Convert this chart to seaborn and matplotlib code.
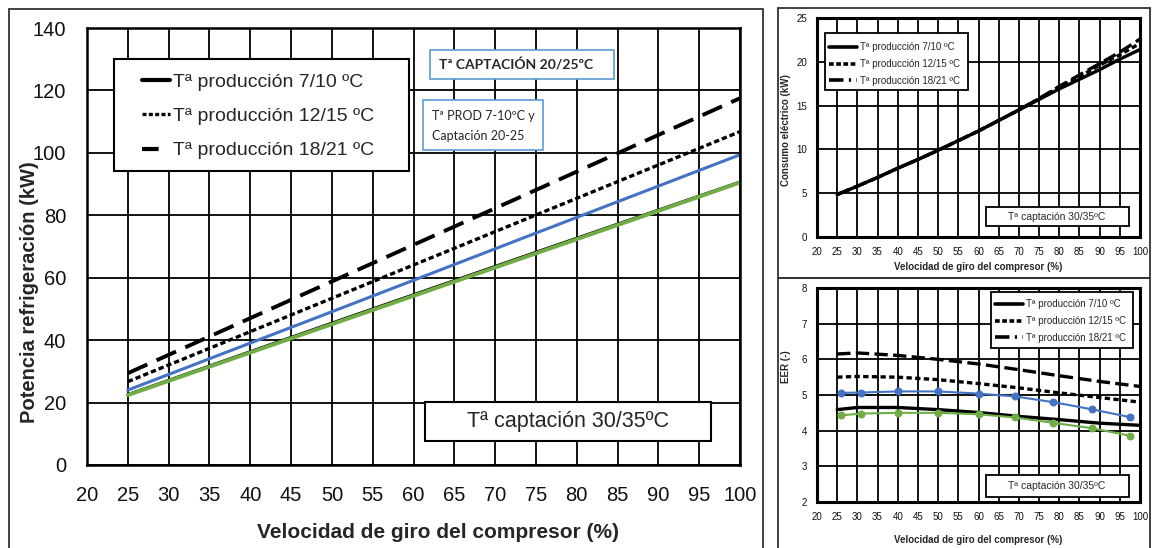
import matplotlib
matplotlib.use("Agg")
import matplotlib.pyplot as plt
import matplotlib.patches as mpatches
from matplotlib.lines import Line2D
import seaborn as sns

# ---- data ----
# main panel: cooling capacity (kW) vs compressor speed (%)
speed_main = [25, 50, 75, 100]
cap_7_10 = [22.6, 45.5, 68.2, 90.7]
cap_12_15 = [26.7, 53.4, 80.1, 106.8]
cap_18_21 = [29.4, 58.8, 88.1, 117.5]
cap_blue = [24.0, 49.1, 74.3, 99.4]
cap_green = [22.4, 45.1, 67.8, 90.5]

# top right: electric consumption (kW)
speed_el = [25, 30, 35, 40, 45, 50, 55, 60, 65, 70, 75, 80, 85, 90, 95, 100]
el_7_10 = [4.85, 5.8, 6.8, 7.85, 8.85, 9.9, 11.0, 12.1, 13.3, 14.5, 15.7, 16.9, 18.0, 19.1, 20.3, 21.4]
el_12_15 = [4.85, 5.8, 6.8, 7.85, 8.85, 9.9, 11.0, 12.1, 13.3, 14.5, 15.8, 17.1, 18.3, 19.6, 20.8, 22.1]
el_18_21 = [4.85, 5.8, 6.8, 7.85, 8.85, 9.9, 11.0, 12.1, 13.3, 14.5, 15.8, 17.2, 18.5, 19.8, 21.1, 22.6]

# bottom right: EER
speed_eer = [25, 30, 40, 50, 60, 70, 80, 90, 100]
eer_7_10 = [4.59, 4.65, 4.65, 4.59, 4.51, 4.40, 4.31, 4.21, 4.15]
eer_12_15 = [5.50, 5.52, 5.50, 5.43, 5.32, 5.20, 5.06, 4.93, 4.80]
eer_18_21 = [6.15, 6.18, 6.11, 6.00, 5.87, 5.71, 5.54, 5.38, 5.24]
speed_pts = [26, 31, 40, 50, 60, 69, 78.5, 88, 97.5]
eer_blue = [5.06, 5.07, 5.10, 5.10, 5.04, 4.96, 4.80, 4.60, 4.38]
eer_green = [4.43, 4.48, 4.50, 4.50, 4.46, 4.37, 4.22, 4.07, 3.86]

labels = ["Tª producción 7/10 ºC", "Tª producción 12/15 ºC", "Tª producción 18/21 ºC"]

BLUE = "#4472C4"
GREEN = "#70AD47"
BOXBLUE = "#5B9BD5"
REG = ["Liberation Sans", "DejaVu Sans"]
CAL = ["Lato", "DejaVu Sans"]

sns.set_theme(style="white")
plt.rcParams["font.family"] = REG

W, H = 1152, 548
fig = plt.figure(figsize=(W / 100, H / 100), dpi=100)


def px_axes(x0, y0, x1, y1):
    return fig.add_axes([x0 / W, 1 - y1 / H, (x1 - x0) / W, (y1 - y0) / H])


def px_rect(x0, y0, x1, y1, ec="black", lw=1.5, fc="none", z=1):
    r = mpatches.Rectangle((x0 / W, 1 - y1 / H), (x1 - x0) / W, (y1 - y0) / H,
                           transform=fig.transFigure, fc=fc, ec=ec, lw=lw, zorder=z)
    fig.add_artist(r)


def px_text(x, y, s, **kw):
    fig.text(x / W, 1 - y / H, s, **kw)


def style_axes(ax, ylim, yticks, tick_fs, pad, grid_lw, spine_lw):
    ax.set_xlim(20, 100)
    ax.set_ylim(*ylim)
    ax.set_xticks(range(20, 101, 5))
    ax.set_yticks(yticks)
    ax.grid(True, color="black", lw=grid_lw)
    for s in ax.spines.values():
        s.set_color("black")
        s.set_linewidth(spine_lw)
    ax.set_xlabel("")
    ax.set_ylabel("")
    ax.tick_params(length=0, pad=pad, labelsize=tick_fs, labelcolor="#111111")


# outer frames
px_rect(9, 9, 763, 560, ec="#333333", lw=1.3)
px_rect(778, 8, 1150, 278, ec="#333333", lw=1.3)
px_rect(778, 278, 1150, 560, ec="#333333", lw=1.3)

# ---- main panel ----
ax = px_axes(87, 28, 740, 465)
sns.lineplot(x=speed_main, y=cap_7_10, ax=ax, color="black", lw=2.0)
sns.lineplot(x=speed_main, y=cap_12_15, ax=ax, color="black", lw=2.4, linestyle=(0, (1.6, 0.9)))
sns.lineplot(x=speed_main, y=cap_18_21, ax=ax, color="black", lw=2.8, linestyle=(0, (5.5, 2.6)))
sns.lineplot(x=speed_main, y=cap_blue, ax=ax, color=BLUE, lw=2.2)
sns.lineplot(x=speed_main, y=cap_green, ax=ax, color=GREEN, lw=2.8)
style_axes(ax, (0, 140), range(0, 141, 20), 14.5, 15, 1.3, 1.8)

h_main = [Line2D([], [], color="black", lw=3),
          Line2D([], [], color="black", lw=2.4, linestyle=(0, (1.2, 0.7))),
          Line2D([], [], color="black", lw=3, linestyle=(0, (4, 8)))]
px_rect(114, 59, 409, 171, lw=1.5, fc="white", z=5)
leg = fig.legend(h_main, labels, loc="center left", bbox_to_anchor=(142 / W, 1 - 116.5 / H),
                 frameon=False, fontsize=14, handlelength=1.45, handletextpad=0.15,
                 labelspacing=0.85, borderpad=0, borderaxespad=0)
leg.set_zorder(6)

px_rect(430, 50, 614, 79, ec=BOXBLUE, lw=1.2, fc="white", z=5)
px_text(439, 65, "Tª CAPTACIÓN 20/25ºC", family=CAL, fontsize=10, fontweight="bold",
        va="center", ha="left", zorder=6)
px_rect(423, 100, 543, 150, ec=BOXBLUE, lw=1.2, fc="white", z=5)
px_text(432, 116, "Tª PROD 7-10ºC y", family=CAL, fontsize=9, va="center", zorder=6)
px_text(432, 136, "Captación 20-25", family=CAL, fontsize=9, va="center", zorder=6)

px_rect(425, 402, 711, 441, lw=1.5, fc="white", z=5)
px_text(568, 422, "Tª captación 30/35ºC", fontsize=15.5, ha="center",
        va="center", zorder=6)

px_text(30, 292, "Potencia refrigeración (kW)", fontsize=14.5, fontweight="bold",
        rotation=90, ha="center", va="center")
px_text(438, 533, "Velocidad de giro del compresor (%)", fontsize=15,
        fontweight="bold", ha="center", va="center")

# ---- top right: consumption ----
ax2 = px_axes(817, 18, 1140, 237)
sns.lineplot(x=speed_el, y=el_18_21, ax=ax2, color="black", lw=2.4, linestyle=(0, (4, 1.6)))
sns.lineplot(x=speed_el, y=el_12_15, ax=ax2, color="black", lw=2.4, linestyle=(0, (1.6, 1)))
sns.lineplot(x=speed_el, y=el_7_10, ax=ax2, color="black", lw=2.4)
style_axes(ax2, (0, 25), range(0, 26, 5), 7, 7, 1.3, 2.2)

h_small = [Line2D([], [], color="black", lw=2.6),
           Line2D([], [], color="black", lw=2.6, linestyle=(0, (1.3, 0.7))),
           Line2D([], [], color="black", lw=2.6, linestyle=(0, (4, 1.5, 0.6, 1.5)))]
px_rect(825, 33, 968, 90, lw=1.3, fc="white", z=5)
leg2 = fig.legend(h_small, labels, loc="center left", bbox_to_anchor=(829 / W, 1 - 64 / H),
                  frameon=False, handlelength=2.9, handletextpad=0.3,
                  labelspacing=0.7, borderpad=0, borderaxespad=0, prop={"size": 7})
leg2.set_zorder(6)
px_rect(986, 207, 1129, 226, lw=1.3, fc="white", z=5)
px_text(1057, 216.5, "Tª captación 30/35ºC", fontsize=7.5, ha="center",
        va="center", zorder=6)
px_text(786, 130, "Consumo eléctrico (kW)", fontsize=7, fontweight="bold",
        rotation=90, ha="center", va="center")
px_text(978, 267, "Velocidad de giro del compresor (%)", fontsize=7,
        fontweight="bold", ha="center", va="center")

# ---- bottom right: EER ----
ax3 = px_axes(817, 288, 1140, 502)
sns.lineplot(x=speed_eer, y=eer_18_21, ax=ax3, color="black", lw=2.4, linestyle=(0, (4, 1.6)))
sns.lineplot(x=speed_eer, y=eer_12_15, ax=ax3, color="black", lw=2.4, linestyle=(0, (1.6, 1)))
sns.lineplot(x=speed_eer, y=eer_7_10, ax=ax3, color="black", lw=2.4)
sns.lineplot(x=speed_pts, y=eer_blue, ax=ax3, color=BLUE, lw=1.5, marker="o", markersize=5,
             markeredgecolor=BLUE)
sns.lineplot(x=speed_pts, y=eer_green, ax=ax3, color=GREEN, lw=1.5, marker="o", markersize=5,
             markeredgecolor=GREEN)
style_axes(ax3, (2, 8), range(2, 9), 7, 7, 1.3, 2.2)

px_rect(991, 292, 1133, 348, lw=1.3, fc="white", z=5)
leg3 = fig.legend(h_small, labels, loc="center left", bbox_to_anchor=(995 / W, 1 - 321 / H),
                  frameon=False, handlelength=2.9, handletextpad=0.3,
                  labelspacing=0.7, borderpad=0, borderaxespad=0, prop={"size": 7})
leg3.set_zorder(6)
px_rect(986, 475, 1129, 497, lw=1.3, fc="white", z=5)
px_text(1057, 486, "Tª captación 30/35ºC", fontsize=7.5, ha="center",
        va="center", zorder=6)
px_text(786, 367, "EER (-)", fontsize=7, fontweight="bold",
        rotation=90, ha="center", va="center")
px_text(978, 540, "Velocidad de giro del compresor (%)", fontsize=7,
        fontweight="bold", ha="center", va="center")

fig.savefig("out.png", dpi=100, facecolor="white")
